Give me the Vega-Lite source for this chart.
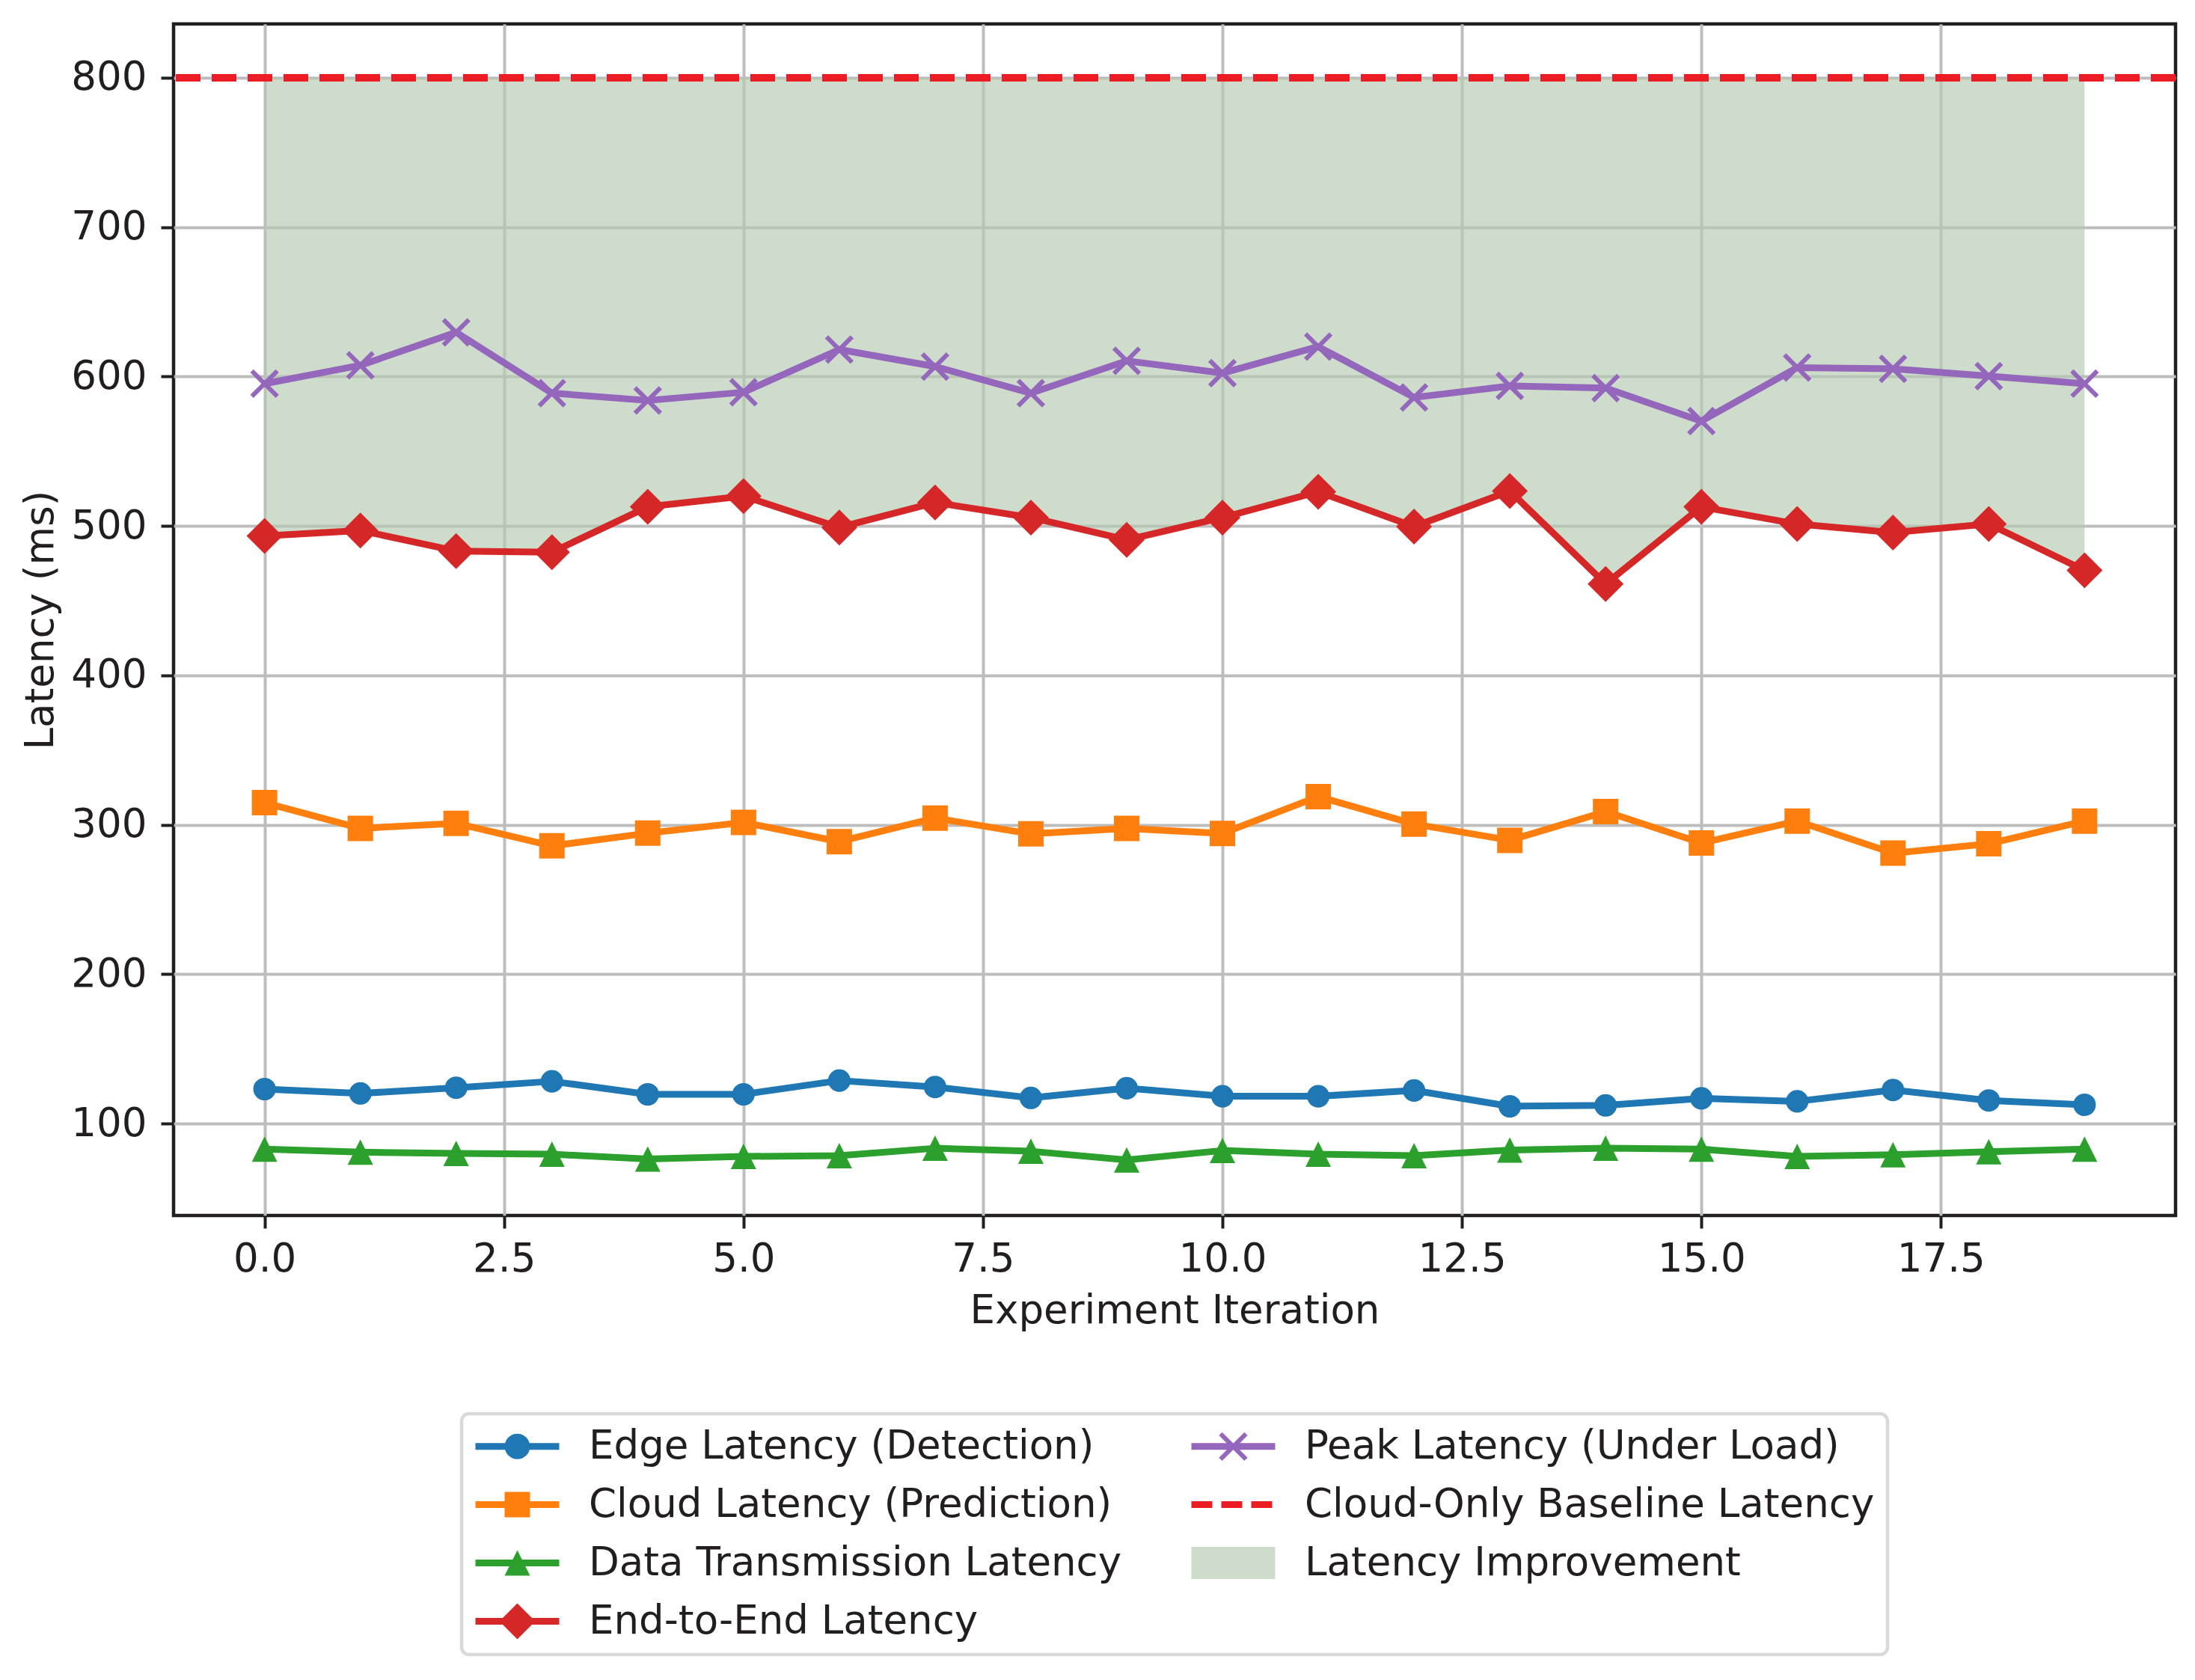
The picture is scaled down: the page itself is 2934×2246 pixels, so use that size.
{
  "$schema": "https://vega.github.io/schema/vega-lite/v6.json",
  "width": 2676,
  "height": 1593,
  "autosize": "none",
  "padding": {"left": 232, "top": 32, "right": 26, "bottom": 621},
  "background": "white",
  "config": {
    "font": "DejaVu Sans",
    "view": {"stroke": "#221e1f", "strokeWidth": 4.5},
    "axis": {
      "labelFont": "DejaVu Sans",
      "labelFontSize": 53,
      "labelColor": "#221e1f",
      "titleFont": "DejaVu Sans",
      "titleFontSize": 53,
      "titleFontWeight": "normal",
      "titleColor": "#221e1f",
      "tickColor": "#221e1f",
      "tickWidth": 4,
      "tickSize": 17,
      "domain": false,
      "gridColor": "#bdbdbd",
      "gridWidth": 4,
      "labelOverlap": false,
      "labelFlush": false
    },
    "legend": {"strokeWidth": 4.5}
  },
  "data": {
    "values": [
      {"iter": 0, "latency": 123.1, "series": "Edge Latency (Detection)"},
      {"iter": 1, "latency": 120.2, "series": "Edge Latency (Detection)"},
      {"iter": 2, "latency": 124.0, "series": "Edge Latency (Detection)"},
      {"iter": 3, "latency": 128.3, "series": "Edge Latency (Detection)"},
      {"iter": 4, "latency": 119.6, "series": "Edge Latency (Detection)"},
      {"iter": 5, "latency": 119.6, "series": "Edge Latency (Detection)"},
      {"iter": 6, "latency": 128.8, "series": "Edge Latency (Detection)"},
      {"iter": 7, "latency": 124.5, "series": "Edge Latency (Detection)"},
      {"iter": 8, "latency": 117.2, "series": "Edge Latency (Detection)"},
      {"iter": 9, "latency": 123.7, "series": "Edge Latency (Detection)"},
      {"iter": 10, "latency": 118.3, "series": "Edge Latency (Detection)"},
      {"iter": 11, "latency": 118.3, "series": "Edge Latency (Detection)"},
      {"iter": 12, "latency": 122.2, "series": "Edge Latency (Detection)"},
      {"iter": 13, "latency": 111.6, "series": "Edge Latency (Detection)"},
      {"iter": 14, "latency": 112.2, "series": "Edge Latency (Detection)"},
      {"iter": 15, "latency": 116.9, "series": "Edge Latency (Detection)"},
      {"iter": 16, "latency": 114.9, "series": "Edge Latency (Detection)"},
      {"iter": 17, "latency": 122.5, "series": "Edge Latency (Detection)"},
      {"iter": 18, "latency": 115.5, "series": "Edge Latency (Detection)"},
      {"iter": 19, "latency": 112.6, "series": "Edge Latency (Detection)"},
      {"iter": 0, "latency": 314.8, "series": "Cloud Latency (Prediction)"},
      {"iter": 1, "latency": 297.6, "series": "Cloud Latency (Prediction)"},
      {"iter": 2, "latency": 301.0, "series": "Cloud Latency (Prediction)"},
      {"iter": 3, "latency": 285.9, "series": "Cloud Latency (Prediction)"},
      {"iter": 4, "latency": 294.4, "series": "Cloud Latency (Prediction)"},
      {"iter": 5, "latency": 301.6, "series": "Cloud Latency (Prediction)"},
      {"iter": 6, "latency": 288.7, "series": "Cloud Latency (Prediction)"},
      {"iter": 7, "latency": 304.5, "series": "Cloud Latency (Prediction)"},
      {"iter": 8, "latency": 293.9, "series": "Cloud Latency (Prediction)"},
      {"iter": 9, "latency": 297.6, "series": "Cloud Latency (Prediction)"},
      {"iter": 10, "latency": 294.2, "series": "Cloud Latency (Prediction)"},
      {"iter": 11, "latency": 318.9, "series": "Cloud Latency (Prediction)"},
      {"iter": 12, "latency": 300.5, "series": "Cloud Latency (Prediction)"},
      {"iter": 13, "latency": 289.6, "series": "Cloud Latency (Prediction)"},
      {"iter": 14, "latency": 308.8, "series": "Cloud Latency (Prediction)"},
      {"iter": 15, "latency": 287.8, "series": "Cloud Latency (Prediction)"},
      {"iter": 16, "latency": 302.5, "series": "Cloud Latency (Prediction)"},
      {"iter": 17, "latency": 281.0, "series": "Cloud Latency (Prediction)"},
      {"iter": 18, "latency": 287.3, "series": "Cloud Latency (Prediction)"},
      {"iter": 19, "latency": 302.5, "series": "Cloud Latency (Prediction)"},
      {"iter": 0, "latency": 82.9, "series": "Data Transmission Latency"},
      {"iter": 1, "latency": 80.9, "series": "Data Transmission Latency"},
      {"iter": 2, "latency": 80.0, "series": "Data Transmission Latency"},
      {"iter": 3, "latency": 79.5, "series": "Data Transmission Latency"},
      {"iter": 4, "latency": 76.3, "series": "Data Transmission Latency"},
      {"iter": 5, "latency": 78.0, "series": "Data Transmission Latency"},
      {"iter": 6, "latency": 78.6, "series": "Data Transmission Latency"},
      {"iter": 7, "latency": 83.5, "series": "Data Transmission Latency"},
      {"iter": 8, "latency": 81.5, "series": "Data Transmission Latency"},
      {"iter": 9, "latency": 75.7, "series": "Data Transmission Latency"},
      {"iter": 10, "latency": 82.0, "series": "Data Transmission Latency"},
      {"iter": 11, "latency": 79.5, "series": "Data Transmission Latency"},
      {"iter": 12, "latency": 78.6, "series": "Data Transmission Latency"},
      {"iter": 13, "latency": 82.3, "series": "Data Transmission Latency"},
      {"iter": 14, "latency": 83.5, "series": "Data Transmission Latency"},
      {"iter": 15, "latency": 82.9, "series": "Data Transmission Latency"},
      {"iter": 16, "latency": 78.0, "series": "Data Transmission Latency"},
      {"iter": 17, "latency": 79.2, "series": "Data Transmission Latency"},
      {"iter": 18, "latency": 81.2, "series": "Data Transmission Latency"},
      {"iter": 19, "latency": 82.9, "series": "Data Transmission Latency"},
      {"iter": 0, "latency": 493.3, "series": "End-to-End Latency"},
      {"iter": 1, "latency": 497.0, "series": "End-to-End Latency"},
      {"iter": 2, "latency": 483.2, "series": "End-to-End Latency"},
      {"iter": 3, "latency": 482.4, "series": "End-to-End Latency"},
      {"iter": 4, "latency": 512.8, "series": "End-to-End Latency"},
      {"iter": 5, "latency": 520.0, "series": "End-to-End Latency"},
      {"iter": 6, "latency": 499.0, "series": "End-to-End Latency"},
      {"iter": 7, "latency": 515.7, "series": "End-to-End Latency"},
      {"iter": 8, "latency": 505.6, "series": "End-to-End Latency"},
      {"iter": 9, "latency": 490.7, "series": "End-to-End Latency"},
      {"iter": 10, "latency": 505.6, "series": "End-to-End Latency"},
      {"iter": 11, "latency": 522.9, "series": "End-to-End Latency"},
      {"iter": 12, "latency": 499.6, "series": "End-to-End Latency"},
      {"iter": 13, "latency": 523.4, "series": "End-to-End Latency"},
      {"iter": 14, "latency": 461.2, "series": "End-to-End Latency"},
      {"iter": 15, "latency": 512.8, "series": "End-to-End Latency"},
      {"iter": 16, "latency": 501.3, "series": "End-to-End Latency"},
      {"iter": 17, "latency": 495.6, "series": "End-to-End Latency"},
      {"iter": 18, "latency": 501.3, "series": "End-to-End Latency"},
      {"iter": 19, "latency": 470.3, "series": "End-to-End Latency"},
      {"iter": 0, "latency": 595.2, "series": "Peak Latency (Under Load)"},
      {"iter": 1, "latency": 607.5, "series": "Peak Latency (Under Load)"},
      {"iter": 2, "latency": 629.6, "series": "Peak Latency (Under Load)"},
      {"iter": 3, "latency": 588.9, "series": "Peak Latency (Under Load)"},
      {"iter": 4, "latency": 584.0, "series": "Peak Latency (Under Load)"},
      {"iter": 5, "latency": 589.5, "series": "Peak Latency (Under Load)"},
      {"iter": 6, "latency": 618.1, "series": "Peak Latency (Under Load)"},
      {"iter": 7, "latency": 606.7, "series": "Peak Latency (Under Load)"},
      {"iter": 8, "latency": 588.9, "series": "Peak Latency (Under Load)"},
      {"iter": 9, "latency": 610.5, "series": "Peak Latency (Under Load)"},
      {"iter": 10, "latency": 602.3, "series": "Peak Latency (Under Load)"},
      {"iter": 11, "latency": 620.0, "series": "Peak Latency (Under Load)"},
      {"iter": 12, "latency": 586.0, "series": "Peak Latency (Under Load)"},
      {"iter": 13, "latency": 593.7, "series": "Peak Latency (Under Load)"},
      {"iter": 14, "latency": 592.3, "series": "Peak Latency (Under Load)"},
      {"iter": 15, "latency": 570.2, "series": "Peak Latency (Under Load)"},
      {"iter": 16, "latency": 606.0, "series": "Peak Latency (Under Load)"},
      {"iter": 17, "latency": 605.2, "series": "Peak Latency (Under Load)"},
      {"iter": 18, "latency": 600.3, "series": "Peak Latency (Under Load)"},
      {"iter": 19, "latency": 595.2, "series": "Peak Latency (Under Load)"}
    ]
  },
  "encoding": {
    "x": {
      "field": "iter",
      "type": "quantitative",
      "scale": {"domain": [-0.95, 19.95], "nice": false, "zero": false},
      "axis": {
        "title": "Experiment Iteration",
        "values": [0, 2.5, 5, 7.5, 10, 12.5, 15, 17.5],
        "format": ".1f",
        "labelPadding": 15,
        "titlePadding": 16
      }
    },
    "y": {
      "field": "latency",
      "type": "quantitative",
      "scale": {"domain": [38.5, 836], "nice": false, "zero": false},
      "axis": {
        "title": "Latency (ms)",
        "values": [100, 200, 300, 400, 500, 600, 700, 800],
        "format": "d",
        "labelPadding": 19,
        "titlePadding": 13
      }
    }
  },
  "layer": [
    {
      "transform": [{"filter": "datum.series === 'End-to-End Latency'"}],
      "mark": {"type": "area", "color": "#b4c9af", "opacity": 0.65},
      "encoding": {"y2": {"datum": 800}}
    },
    {
      "mark": {"type": "rule", "color": "#ec1c24", "strokeWidth": 9, "strokeDash": [33, 15]},
      "encoding": {"x": null, "y": {"datum": 800}}
    },
    {
      "mark": {"type": "line", "strokeWidth": 9, "strokeJoin": "round"},
      "encoding": {
        "stroke": {
          "field": "series",
          "type": "nominal",
          "legend": null,
          "scale": {
            "domain": ["Edge Latency (Detection)", "Cloud Latency (Prediction)", "Data Transmission Latency", "End-to-End Latency", "Peak Latency (Under Load)"],
            "range": ["#1f77b4", "#ff7f0e", "#2ca02c", "#d62728", "#9467bd"]
          }
        },
        "detail": {"field": "series"}
      }
    },
    {
      "transform": [{"filter": "datum.series === 'Edge Latency (Detection)'"}],
      "mark": {"type": "point", "shape": "circle", "size": 908, "filled": true, "opacity": 1, "color": "#1f77b4", "strokeWidth": 0}
    },
    {
      "transform": [{"filter": "datum.series === 'Cloud Latency (Prediction)'"}],
      "mark": {"type": "point", "shape": "square", "size": 1156, "filled": true, "opacity": 1, "color": "#ff7f0e", "strokeWidth": 0}
    },
    {
      "transform": [{"filter": "datum.series === 'Data Transmission Latency'"}],
      "mark": {"type": "point", "shape": "M0,-1L1,1L-1,1Z", "size": 1156, "filled": true, "opacity": 1, "color": "#2ca02c", "strokeWidth": 0}
    },
    {
      "transform": [{"filter": "datum.series === 'End-to-End Latency'"}],
      "mark": {"type": "point", "shape": "diamond", "size": 2304, "filled": true, "opacity": 1, "color": "#d62728", "strokeWidth": 0}
    },
    {
      "transform": [{"filter": "datum.series === 'Peak Latency (Under Load)'"}],
      "mark": {"type": "point", "shape": "M-0.875,-1.125L1.125,0.875L0.875,1.125L-1.125,-0.875ZM-1.125,0.875L0.875,-1.125L1.125,-0.875L-0.875,1.125Z", "size": 1156, "filled": true, "opacity": 1, "color": "#9467bd", "strokeWidth": 0}
    },
    {
      "transform": [{"filter": "false"}],
      "mark": {"type": "point", "filled": true, "opacity": 1, "size": 2500, "strokeWidth": 0},
      "encoding": {
        "color": {
          "field": "series",
          "type": "nominal",
          "scale": {
            "domain": ["Edge Latency (Detection)", "Cloud Latency (Prediction)", "Data Transmission Latency", "End-to-End Latency", "Peak Latency (Under Load)", "Cloud-Only Baseline Latency", "Latency Improvement"],
            "range": ["#1f77b4", "#ff7f0e", "#2ca02c", "#d62728", "#9467bd", "#ec1c24", "#cedccb"]
          },
          "legend": {
            "title": null,
            "orient": "none",
            "legendX": 385,
            "legendY": 1858,
            "columns": 2,
            "padding": 17,
            "strokeColor": "#d9d9d9",
            "fillColor": "white",
            "cornerRadius": 10,
            "labelFont": "DejaVu Sans",
            "labelFontSize": 53,
            "labelColor": "#221e1f",
            "labelLimit": 3000,
            "labelOffset": 100,
            "symbolSize": 2500,
            "symbolStrokeWidth": 0,
            "symbolOpacity": 1,
            "rowPadding": 24,
            "columnPadding": 91
          }
        },
        "shape": {
          "field": "series",
          "type": "nominal",
          "scale": {
            "domain": ["Edge Latency (Detection)", "Cloud Latency (Prediction)", "Data Transmission Latency", "End-to-End Latency", "Peak Latency (Under Load)", "Cloud-Only Baseline Latency", "Latency Improvement"],
            "range": [
              "M-1,-0.18L3.48,-0.18L3.48,0.18L-1,0.18ZM0.56,0A0.68,0.68 0 1,1 1.92,0A0.68,0.68 0 1,1 0.56,0Z",
              "M-1,-0.18L3.48,-0.18L3.48,0.18L-1,0.18ZM0.56,-0.68L1.92,-0.68L1.92,0.68L0.56,0.68Z",
              "M-1,-0.18L3.48,-0.18L3.48,0.18L-1,0.18ZM1.24,-0.68L1.92,0.68L0.56,0.68Z",
              "M-1,-0.18L3.48,-0.18L3.48,0.18L-1,0.18ZM1.24,-0.96L2.2,0L1.24,0.96L0.28,0Z",
              "M-1,-0.18L3.48,-0.18L3.48,0.18L-1,0.18ZM0.645,-0.765L2.005,0.595L1.835,0.765L0.475,-0.595ZM0.475,0.595L1.835,-0.765L2.005,-0.595L0.645,0.765Z",
              "M-1,-0.18L0.12,-0.18L0.12,0.18L-1,0.18ZM0.6,-0.18L1.72,-0.18L1.72,0.18L0.6,0.18ZM2.2,-0.18L3.32,-0.18L3.32,0.18L2.2,0.18Z",
              "M-1,-0.86L3.48,-0.86L3.48,0.86L-1,0.86Z"
            ]
          },
          "legend": {
            "title": null,
            "orient": "none",
            "legendX": 385,
            "legendY": 1858,
            "columns": 2,
            "padding": 17,
            "strokeColor": "#d9d9d9",
            "fillColor": "white",
            "cornerRadius": 10,
            "labelFont": "DejaVu Sans",
            "labelFontSize": 53,
            "labelColor": "#221e1f",
            "labelLimit": 3000,
            "labelOffset": 100,
            "symbolSize": 2500,
            "symbolStrokeWidth": 0,
            "symbolOpacity": 1,
            "rowPadding": 24,
            "columnPadding": 91
          }
        }
      }
    }
  ]
}
